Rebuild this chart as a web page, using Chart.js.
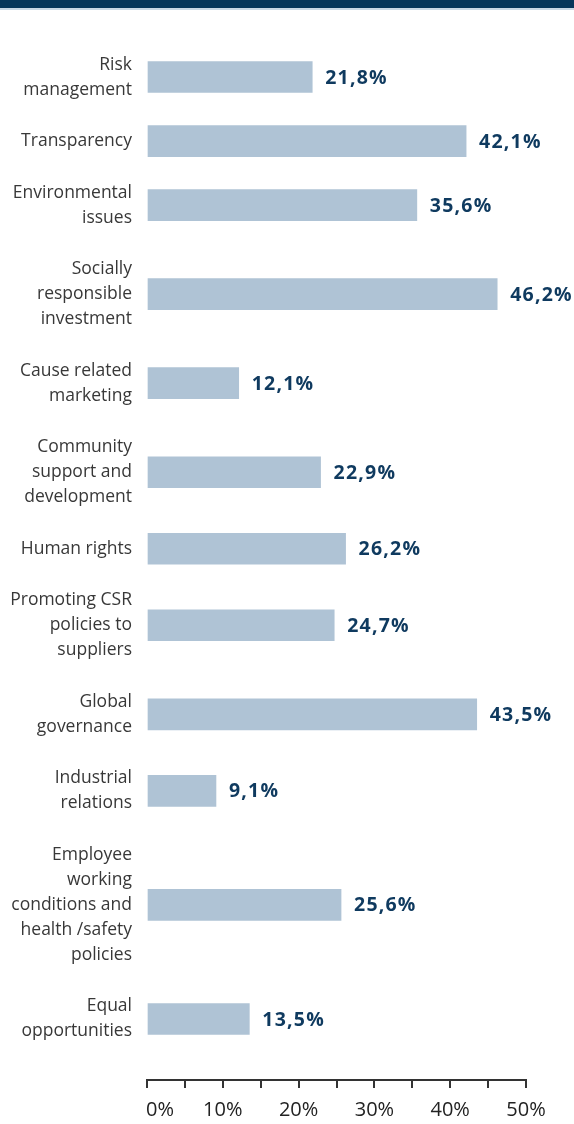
<!DOCTYPE html>
<html>
<head>
<meta charset="utf-8">
<script src="https://cdn.jsdelivr.net/npm/chart.js@4.4.1/dist/chart.umd.min.js"></script>
<style>
  html, body { margin: 0; padding: 0; background: #fff; }
  #wrap { position: relative; width: 574px; height: 1124px; }
  #band { position: absolute; left: 0; top: 0; width: 574px; height: 8px; background: #06365a; border-bottom: 2px solid #c8d7e4; }
</style>
</head>
<body>
<div id="wrap">
  <canvas id="csrChart" width="574" height="1124"></canvas>
  <div id="band"></div>
</div>
<script>
const categories = [
  ["Risk", "management"],
  ["Transparency"],
  ["Environmental", "issues"],
  ["Socially", "responsible", "investment"],
  ["Cause related", "marketing"],
  ["Community", "support and", "development"],
  ["Human rights"],
  ["Promoting CSR", "policies to", "suppliers"],
  ["Global", "governance"],
  ["Industrial", "relations"],
  ["Employee", "working", "conditions and", "health /safety", "policies"],
  ["Equal", "opportunities"]
];
const shares = [21.8, 42.1, 35.6, 46.2, 12.1, 22.9, 26.2, 24.7, 43.5, 9.1, 25.6, 13.5];
const xTicks = [0, 10, 20, 30, 40, 50];

// each row takes as many "line units" as its label has lines, plus a gap
const ROW_GAP = 1.06;
const rowCenters = [];
categories.forEach((lines, i) => {
  if (i === 0) {
    rowCenters.push(0);
  } else {
    const prev = categories[i - 1].length;
    rowCenters.push(rowCenters[i - 1] + (prev + lines.length) / 2 + ROW_GAP);
  }
});

const FONT = "'Open Sans', Lato, sans-serif";

const valueLabels = {
  id: "valueLabels",
  afterDatasetsDraw(chart) {
    const ctx = chart.ctx;
    const meta = chart.getDatasetMeta(0);
    ctx.save();
    ctx.font = "bold 19.5px " + FONT;
    ctx.letterSpacing = "1.2px";
    ctx.fillStyle = "#0f3a5f";
    ctx.textAlign = "left";
    ctx.textBaseline = "middle";
    meta.data.forEach((bar, i) => {
      const text = shares[i].toFixed(1).replace(".", ",") + "%";
      ctx.fillText(text, bar.x + 13, bar.y + 1);
    });
    ctx.restore();
  }
};

const context = document.getElementById("csrChart").getContext("2d");
new Chart(context, {
  type: "bar",
  data: {
    datasets: [{
      data: shares.map((value, i) => ({ x: value, y: rowCenters[i] })),
      backgroundColor: "#afc3d5",
      borderWidth: 0,
      barThickness: 31
    }]
  },
  options: {
    indexAxis: "y",
    responsive: false,
    animation: false,
    events: [],
    layout: { padding: { top: 27, right: 48, left: 0, bottom: 0 } },
    plugins: { legend: { display: false }, tooltip: { enabled: false } },
    scales: {
      y: {
        type: "linear",
        reverse: true,
        offset: false,
        min: -1.48,
        max: rowCenters[rowCenters.length - 1] + 2.44,
        afterBuildTicks: (axis) => {
          axis.ticks = rowCenters.map((value) => ({ value }));
        },
        afterFit: (axis) => { axis.width = 147; },
        grid: { display: false, drawTicks: false },
        border: { display: false },
        ticks: {
          autoSkip: false,
          padding: 15,
          color: "#383838",
          font: { family: FONT, size: 17.5, lineHeight: 1.4286 },
          callback: (value, index) => categories[index]
        }
      },
      x: {
        type: "linear",
        min: 0,
        max: 50,
        afterFit: (axis) => { axis.height = 44; },
        grid: {
          display: true,
          drawOnChartArea: false,
          drawTicks: true,
          tickLength: 8,
          color: "#333",
          lineWidth: 2
        },
        border: { display: true, color: "#333", width: 2 },
        ticks: {
          stepSize: 5,
          padding: 10,
          maxRotation: 0,
          autoSkip: false,
          color: "#222",
          font: { family: FONT, size: 20 },
          callback: (value) => {
            if (!xTicks.includes(value)) return "";
            return value === 0 ? "     0%" : value + "%";
          }
        }
      }
    }
  },
  plugins: [valueLabels]
});
</script>
</body>
</html>
